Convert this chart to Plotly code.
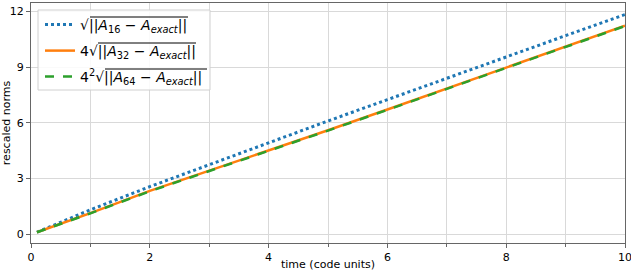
import plotly.graph_objects as go

t = [0.1, 1, 2, 3, 4, 5, 6, 7, 8, 9, 10]
norm16 = [0.1, 1.31, 2.56, 3.75, 4.93, 6.10, 7.25, 8.42, 9.55, 10.70, 11.84]
norm32 = [0.1, 1.13, 2.33, 3.42, 4.48, 5.60, 6.72, 7.85, 8.97, 10.10, 11.24]
norm64 = [0.1, 1.12, 2.31, 3.40, 4.46, 5.58, 6.70, 7.83, 8.95, 10.08, 11.22]

def label(prefix, n):
    return prefix + "√||<i>A</i><sub>" + n + "</sub> − <i>A<sub>exact</sub></i>||"

name16 = label("", "16")
name32 = label("4", "32")
name64 = label("4<sup>2</sup>", "64")

fig = go.Figure()
fig.add_trace(go.Scatter(x=t, y=norm16, mode="lines", name=name16, legend="legend",
                         showlegend=True,
                         line=dict(color="#1f77b4", width=3, dash="dot")))
fig.add_trace(go.Scatter(x=t, y=norm32, mode="lines", name=name32, legend="legend2",
                         showlegend=True,
                         line=dict(color="#ff7f0e", width=2.5)))
fig.add_trace(go.Scatter(x=t, y=norm64, mode="lines", name=name64, legend="legend3",
                         showlegend=True,
                         line=dict(color="#2ca02c", width=2.5, dash="dash")))

# legend frame and radical vinculum overlines (pixel positions -> paper coords)
PL, PW, PB, PH = 31, 594, 243, 240
def px(x): return (x - PL) / PW
def py(y): return (PB - y) / PH
fig.add_shape(type="rect", xref="paper", yref="paper", x0=px(38), x1=px(210),
              y0=py(90), y1=py(10), fillcolor="rgba(255,255,255,0.85)",
              line=dict(color="#d0d0d0", width=1), layer="above")
rows = [25, 51, 77]
vinculum = [(90, 188), (98, 196), (105, 207)]
for (x0, x1), cy in zip(vinculum, rows):
    y = cy - 8
    fig.add_shape(type="line", xref="paper", yref="paper", x0=px(x0), x1=px(x1),
                  y0=py(y), y1=py(y), line=dict(color="#000", width=1), layer="above")

axis_common = dict(showline=True, linecolor="#666", linewidth=1, mirror=True,
                   ticks="outside", ticklen=4, tickcolor="#666",
                   gridcolor="#d9d9d9", gridwidth=1, zeroline=False,
                   tickfont=dict(size=11, color="#000"), automargin=False,
                   ticklabeloverflow="allow")
fig.update_xaxes(range=[0, 10], tickvals=[0, 2, 4, 6, 8, 10],
                 minor=dict(dtick=1, showgrid=True, ticks="outside", ticklen=3,
                            gridcolor="#d9d9d9", tickcolor="#666"),
                 title=dict(text="time (code units)", font=dict(size=11), standoff=1),
                 **axis_common)
fig.update_yaxes(range=[-0.48, 12.46], tickvals=[0, 3, 6, 9, 12],
                 title=dict(text="rescaled norms", font=dict(size=11), standoff=4),
                 **axis_common)

leg = dict(xanchor="left", yanchor="middle", bgcolor="rgba(0,0,0,0)", borderwidth=0,
           font=dict(size=14), itemwidth=30, visible=True)
fig.update_layout(
    width=631, height=271,
    margin=dict(l=31, r=6, t=3, b=28),
    paper_bgcolor="white", plot_bgcolor="white",
    font=dict(family="DejaVu Sans", color="#000"),
    showlegend=True,
    legend=dict(x=px(40), y=py(rows[0]), **leg),
    legend2=dict(x=px(40), y=py(rows[1]), **leg),
    legend3=dict(x=px(40), y=py(rows[2]), **leg),
)
fig.write_html("out.html", config={"displayModeBar": False},
               post_script="document.body.style.margin='0';document.body.style.overflow='hidden';")
